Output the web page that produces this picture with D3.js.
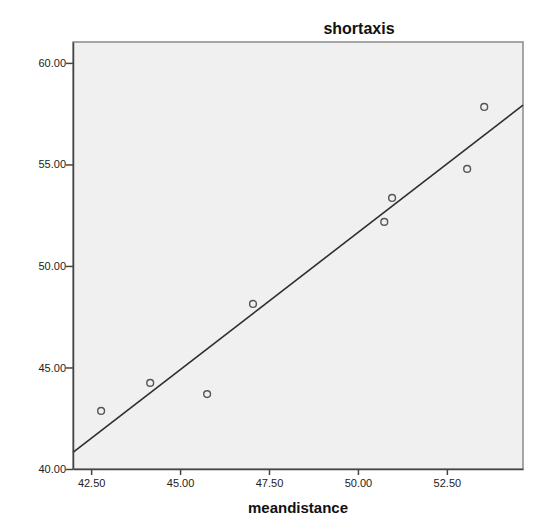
<!DOCTYPE html>
<html>
<head>
<meta charset="utf-8">
<script src="https://cdn.jsdelivr.net/npm/d3@7"></script>
<style>
  body { margin: 0; background: #fff; }
  svg { font-family: "Liberation Sans", Arial, sans-serif; }
</style>
</head>
<body>
<div id="chart"></div>
<script>
// values
var meandistance = [42.78, 44.16, 45.76, 47.05, 50.74, 50.96, 53.07, 53.55];
var shortaxis = [42.86, 44.24, 43.69, 48.13, 52.17, 53.35, 54.78, 57.83];
var xTicks = [42.5, 45, 47.5, 50, 52.5];
var yTicks = [40, 45, 50, 55, 60];

var width = 550;
var height = 530;
var margin = { top: 42, right: 27, bottom: 61, left: 73 };

var svg = d3.select("#chart")
  .append("svg")
  .attr("width", width)
  .attr("height", height);

var x = d3.scaleLinear()
  .domain([41.99, 54.64])
  .range([margin.left, width - margin.right]);

var y = d3.scaleLinear()
  .domain([40, 61.03])
  .range([height - margin.bottom, margin.top]);

// plot background
svg.append("rect")
  .attr("x", margin.left)
  .attr("y", margin.top)
  .attr("width", width - margin.left - margin.right)
  .attr("height", height - margin.top - margin.bottom)
  .attr("fill", "#f0f0f0")
  .attr("stroke", "#8a8a8a")
  .attr("stroke-width", 1.5);

// least squares fit line
var mx = d3.mean(meandistance), my = d3.mean(shortaxis);
var sxy = d3.sum(meandistance, (d, i) => (d - mx) * (shortaxis[i] - my));
var sxx = d3.sum(meandistance, d => (d - mx) * (d - mx));
var slope = sxy / sxx;
var intercept = my - slope * mx;
var x0 = x.domain()[0], x1 = x.domain()[1];

svg.append("line")
  .attr("x1", x(x0))
  .attr("y1", y(intercept + slope * x0))
  .attr("x2", x(x1))
  .attr("y2", y(intercept + slope * x1))
  .attr("stroke", "#2e2e2e")
  .attr("stroke-width", 1.6);

// points
svg.append("g")
  .selectAll("circle")
  .data(meandistance)
  .join("circle")
    .attr("cx", d => x(d))
    .attr("cy", (d, i) => y(shortaxis[i]))
    .attr("r", 3.4)
    .attr("fill", "none")
    .attr("stroke", "#555")
    .attr("stroke-width", 1.4);

// axes
function yAxis(g) {
  g.attr("transform", `translate(${margin.left},0)`)
    .call(d3.axisLeft(y).tickValues(yTicks).tickFormat(d3.format(".2f"))
      .tickSize(7).tickSizeOuter(0).tickPadding(0))
    .attr("font-size", "11px")
    .attr("font-family", null);
  g.select(".domain").attr("stroke", "#444").attr("stroke-width", 1.5);
  g.selectAll(".tick line").attr("stroke", "#444").attr("stroke-width", 1.5);
  g.selectAll(".tick text").attr("fill", "#222");
}

function xAxis(g) {
  g.attr("transform", `translate(0,${height - margin.bottom})`)
    .call(d3.axisBottom(x).tickValues(xTicks).tickFormat(d3.format(".2f"))
      .tickSize(6).tickSizeOuter(0).tickPadding(4))
    .attr("font-size", "11px")
    .attr("font-family", null);
  g.select(".domain").attr("stroke", "#444").attr("stroke-width", 1.5);
  g.selectAll(".tick line").attr("stroke", "#444").attr("stroke-width", 1.5);
  g.selectAll(".tick text").attr("fill", "#222");
}

svg.append("g").call(xAxis);
svg.append("g").call(yAxis);

// title and axis label
svg.append("text")
  .attr("x", 359)
  .attr("y", 34)
  .attr("text-anchor", "middle")
  .attr("font-size", "16px")
  .attr("font-weight", "bold")
  .attr("fill", "#111")
  .text("shortaxis");

svg.append("text")
  .attr("x", (margin.left + width - margin.right) / 2)
  .attr("y", 513)
  .attr("text-anchor", "middle")
  .attr("font-size", "15px")
  .attr("font-weight", "bold")
  .attr("fill", "#111")
  .text("meandistance");
</script>
</body>
</html>
